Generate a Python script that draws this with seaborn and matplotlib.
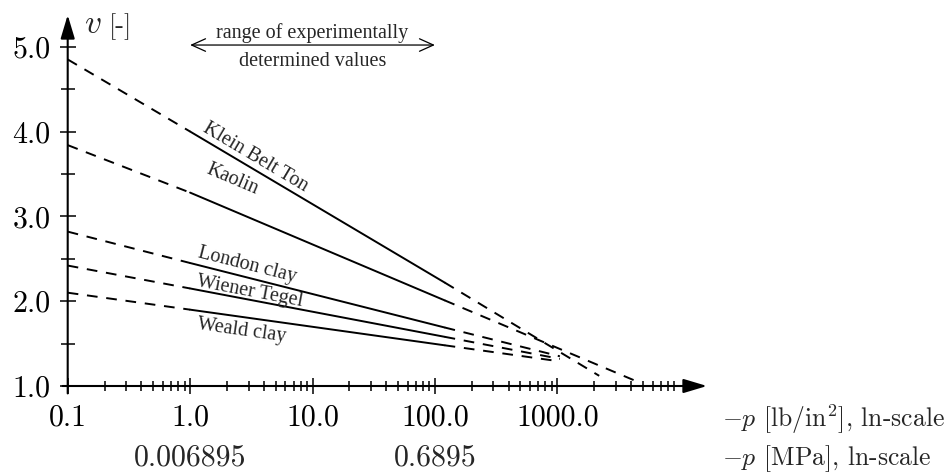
import matplotlib
matplotlib.use("Agg")
import matplotlib.pyplot as plt
import matplotlib.transforms as mtransforms
from matplotlib.ticker import FixedLocator, NullFormatter
import numpy as np
import seaborn as sns

# Void ratio v against confining pressure -p (log scale) for five clays
soils = ["Klein Belt Ton", "Kaolin", "London clay", "Wiener Tegel", "Weald clay"]
v_at_p01 = [4.85, 3.84, 2.82, 2.42, 2.10]     # extrapolated value at p = 0.1 lb/in^2
v_at_p1 = [4.00, 3.28, 2.45, 2.15, 1.90]      # start of measured range, p = 1 lb/in^2
v_at_p120 = [2.22, 2.01, 1.69, 1.58, 1.48]    # end of measured range, p = 120 lb/in^2
p_tail_end = [2200.0, 4200.0, 1050.0, 1050.0, 1050.0]
v_tail_end = [1.12, 1.07, 1.35, 1.32, 1.29]

# label anchor points (p, v) for the soil names
label_p = [3.39, 2.20, 2.92, 3.08, 2.65]
label_v = [3.69, 3.43, 2.43, 2.11, 1.65]

x_major = [0.1, 1.0, 10.0, 100.0, 1000.0]
x_major_labels = ["0.1", "1.0", "10.0", "100.0", "1000.0"]
x_minor = [m * 10.0 ** e for e in range(-1, 4) for m in range(2, 10)]
mpa_ticks = [1.0, 100.0]
mpa_labels = ["0.006895", "0.6895"]
y_major = [1.0, 2.0, 3.0, 4.0, 5.0]
y_major_labels = ["1.0", "2.0", "3.0", "4.0", "5.0"]
y_minor = [1.5, 2.5, 3.5, 4.5]

sns.set_theme(style="ticks")
plt.rcParams["mathtext.fontset"] = "cm"
plt.rcParams["font.family"] = ["Liberation Serif", "DejaVu Serif"]

W, H = 949, 475
fig = plt.figure(figsize=(W / 100, H / 100), dpi=100)
ax = fig.add_axes([67.7 / W, 89 / H, 639.3 / W, 371 / H])
ax.set_xscale("log")
ax.set_xlim(0.1, 10 ** 4.223)
ax.set_ylim(1.0, 5.374)
ax.set_facecolor("white")
for s in ax.spines.values():
    s.set_visible(False)

dash = (0, (5.5, 4.5))
lw = 1.4
for i, name in enumerate(soils):
    sns.lineplot(x=[0.1, 1.0], y=[v_at_p01[i], v_at_p1[i]], ax=ax,
                 color="black", lw=lw, linestyle=dash)
    sns.lineplot(x=[1.0, 120.0], y=[v_at_p1[i], v_at_p120[i]], ax=ax,
                 color="black", lw=lw)
    sns.lineplot(x=[120.0, p_tail_end[i]], y=[v_at_p120[i], v_tail_end[i]],
                 ax=ax, color="black", lw=lw, linestyle=dash)

# soil names, rotated along their measured segment
for i, name in enumerate(soils):
    (x0, y0), (x1, y1) = ax.transData.transform([(1.0, v_at_p1[i]),
                                                 (120.0, v_at_p120[i])])
    ang = np.degrees(np.arctan2(y1 - y0, x1 - x0))
    ax.text(label_p[i], label_v[i], name, rotation=ang, rotation_mode="anchor",
            ha="center", va="center", fontsize=14.5,
            family="Liberation Serif")

# ticks
ax.xaxis.set_major_locator(FixedLocator(x_major))
ax.xaxis.set_minor_locator(FixedLocator(x_minor))
ax.xaxis.set_minor_formatter(NullFormatter())
ax.set_xticklabels(x_major_labels, fontfamily="cmr10", fontsize=21.5)
ax.yaxis.set_major_locator(FixedLocator(y_major))
ax.yaxis.set_minor_locator(FixedLocator(y_minor))
ax.yaxis.set_minor_formatter(NullFormatter())
ax.set_yticklabels(y_major_labels, fontfamily="cmr10", fontsize=21.5)
ax.tick_params(which="major", direction="inout", length=11.5, width=1.1,
               color="black", labelcolor="black")
ax.tick_params(axis="x", which="major", pad=7.0)
ax.tick_params(axis="y", which="major", pad=6.5)
ax.tick_params(which="minor", direction="inout", length=7.0, width=1.1,
               color="black")
ax.tick_params(axis="y", which="minor", length=10.0)

# second row of x labels in MPa
blend = mtransforms.blended_transform_factory(ax.transData, ax.transAxes)
for p, lab in zip(mpa_ticks, mpa_labels):
    ax.text(p, -0.213, lab, transform=blend, ha="center", va="baseline",
            fontsize=21.5, family="cmr10")

# axes drawn as arrows
head = dict(arrowstyle="-|>,head_length=1.0,head_width=0.3", mutation_scale=14.4,
            lw=1.5, color="black", shrinkA=0, shrinkB=0)
ax.annotate("", xy=(1.0, 0.0), xytext=(-0.008, 0.0), xycoords="axes fraction",
            textcoords="axes fraction", arrowprops=head, annotation_clip=False)
ax.annotate("", xy=(0.0, 1.0), xytext=(0.0, -0.02), xycoords="axes fraction",
            textcoords="axes fraction", arrowprops=head, annotation_clip=False)

# measured range marker
rng = dict(arrowstyle="<->,head_length=1.0,head_width=0.45", mutation_scale=10,
           lw=0.9, color="black", shrinkA=0, shrinkB=0)
ax.annotate("", xy=(100.0, 5.02), xytext=(1.0, 5.02), arrowprops=rng,
            annotation_clip=False)
ax.text(10.0, 5.097, "range of experimentally", ha="center", va="baseline",
        fontsize=14.5, family="Liberation Serif", clip_on=False)
ax.text(10.0, 4.77, "determined values", ha="center", va="baseline",
        fontsize=14.5, family="Liberation Serif", clip_on=False)

# axis titles
fig.text(84 / W, (H - 33) / H, r"$v$", fontsize=24, family="cmr10",
         ha="left", va="baseline")
fig.text(109 / W, (H - 33) / H, "[-]", fontsize=19, family="cmr10",
         ha="left", va="baseline")
fig.text(722 / W, (H - 427) / H, r"$-p$ [lb/in$^2$], ln-scale", fontsize=18.5,
         family="cmr10", ha="left", va="baseline")
fig.text(722 / W, (H - 465) / H, r"$-p$ [MPa], ln-scale", fontsize=18.5,
         family="cmr10", ha="left", va="baseline")

fig.savefig("out.png", dpi=100, facecolor="white")
